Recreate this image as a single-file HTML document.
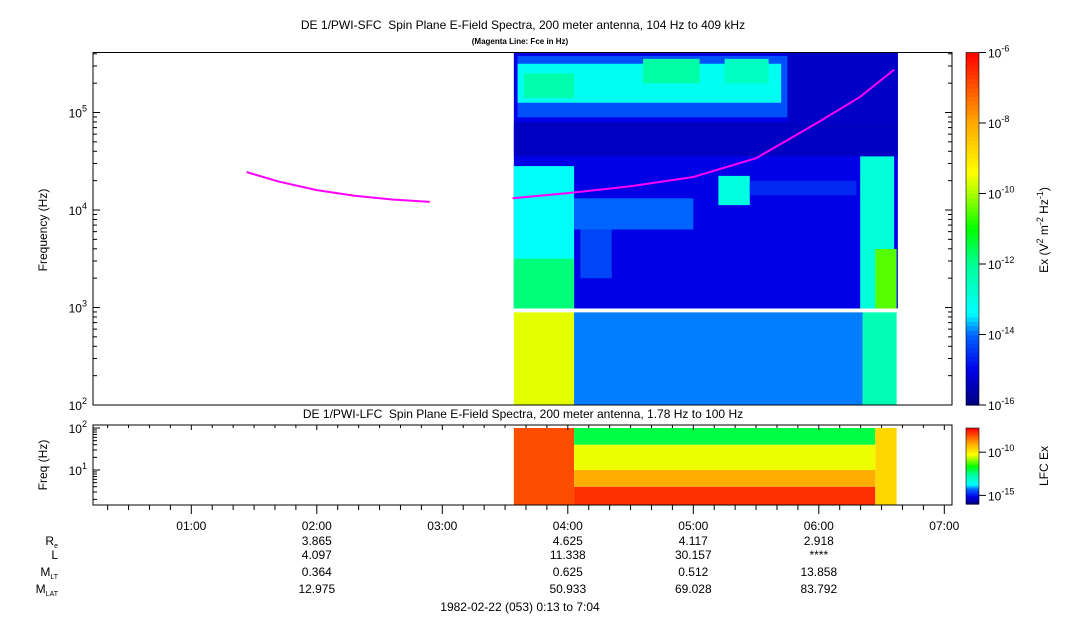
<!DOCTYPE html>
<html><head><meta charset="utf-8"><style>
body{margin:0;background:#fff;font-family:"Liberation Sans",sans-serif}
svg{display:block}
text{font-family:"Liberation Sans",sans-serif;fill:#000;white-space:pre}
</style></head><body>
<svg id="c" width="1083" height="620" viewBox="0 0 1083 620"></svg>
<script>
// ---- data ----
const fce1Times=[1.44,1.7,2.0,2.3,2.6,2.9];
const fce1Vals=[24500,19500,16000,14000,12800,12100];
const fce2Times=[3.56,4.0,4.5,5.0,5.5,6.0,6.33,6.6];
const fce2Vals=[13200,14900,17500,21800,34000,80000,145000,275000];
// SFC regions: [t0,t1,logF0,logF1,log10 power]
const sfcRegions=[
 [3.57,6.63,2.99,5.61,-15.0],
 [3.57,6.63,4.55,4.9,-15.35],
 [5.75,6.63,4.9,5.61,-15.3],
 [3.6,5.75,4.95,5.58,-14.2],
 [3.6,5.7,5.1,5.5,-13.2],
 [3.65,4.05,5.15,5.4,-12.3],
 [4.6,5.05,5.3,5.55,-12.2],
 [5.25,5.6,5.3,5.55,-12.6],
 [3.57,4.05,2.99,4.45,-13.3],
 [3.57,4.05,2.99,3.5,-11.8],
 [4.05,5.0,3.8,4.12,-14.0],
 [4.1,4.35,3.3,3.8,-14.3],
 [5.2,5.45,4.05,4.35,-13.0],
 [5.45,6.3,4.15,4.3,-14.6],
 [6.33,6.6,2.99,4.55,-12.9],
 [6.45,6.62,2.99,3.6,-10.5],
 [3.57,4.05,2.0,2.95,-9.6],
 [4.05,6.35,2.0,2.95,-13.9],
 [6.35,6.62,2.0,2.95,-12.4]
];
// LFC regions: [t0,t1,logF0,logF1,log10 power]
const lfcRegions=[
 [3.57,4.05,0.17,2.0,-8.0],
 [4.05,6.45,1.6,2.0,-12.0],
 [4.05,6.45,1.0,1.6,-10.3],
 [4.05,6.45,0.6,1.0,-9.0],
 [4.05,6.45,0.17,0.6,-7.7],
 [6.45,6.62,0.17,2.0,-9.6]
];
const ephemTimes=[2,4,5,6];
const ephemRe=["3.865","4.625","4.117","2.918"];
const ephemL=["4.097","11.338","30.157","****"];
const ephemMLT=["0.364","0.625","0.512","13.858"];
const ephemMLAT=["12.975","50.933","69.028","83.792"];
const hourTicks=["01:00","02:00","03:00","04:00","05:00","06:00","07:00"];

// ---- axes ----
const X0=93,X1=952;
const tx=t=>X0+(t-0.2167)*125.5;
const sy=l=>405-(l-2)*97.5;
const ly=l=>428+(2-l)*42;
const svg=document.getElementById('c');
const NS='http://www.w3.org/2000/svg';
function mk(tag,a,parent){const e=document.createElementNS(NS,tag);for(const k in a)e.setAttribute(k,a[k]);(parent||svg).appendChild(e);return e;}
const stops=[[0,[0,0,128]],[0.1,[0,0,230]],[0.2,[0,100,255]],[0.26,[0,255,255]],[0.4,[0,255,150]],[0.5,[0,255,0]],[0.6,[170,255,0]],[0.66,[255,255,0]],[0.8,[255,170,0]],[0.9,[255,85,0]],[1,[255,0,0]]];
function cmap(p){p=Math.max(0,Math.min(1,p));for(let i=1;i<stops.length;i++){if(p<=stops[i][0]){const a=stops[i-1],b=stops[i],f=(p-a[0])/(b[0]-a[0]);const c=a[1].map((v,j)=>Math.round(v+(b[1][j]-v)*f));return `rgb(${c})`;}}return 'rgb(255,0,0)';}

// titles
let t=mk('text',{x:523,y:29,'font-size':12,'text-anchor':'middle'});t.textContent='DE 1/PWI-SFC  Spin Plane E-Field Spectra, 200 meter antenna, 104 Hz to 409 kHz';

t=mk('text',{x:520,y:44,'font-size':8,'font-weight':'bold','text-anchor':'middle'});t.textContent='(Magenta Line: Fce in Hz)';

t=mk('text',{x:523,y:418,'font-size':12,'text-anchor':'middle'});t.textContent='DE 1/PWI-LFC  Spin Plane E-Field Spectra, 200 meter antenna, 1.78 Hz to 100 Hz';


// spectrogram regions
const gS=mk('g',{});
sfcRegions.forEach(r=>{const e=mk('rect',{x:tx(r[0]),y:sy(r[3]),width:tx(r[1])-tx(r[0]),height:sy(r[2])-sy(r[3]),fill:cmap((r[4]+16)/10)},gS);
});
const gL=mk('g',{});
lfcRegions.forEach(r=>{const e=mk('rect',{x:tx(r[0]),y:ly(r[3]),width:tx(r[1])-tx(r[0]),height:Math.min(505,ly(r[2]))-ly(r[3]),fill:cmap((r[4]+16)/8.8)},gL);
});

// fce lines
function line(ts,vs,name){const d=ts.map((tt,i)=>(i?'L':'M')+tx(tt).toFixed(1)+','+sy(Math.log10(vs[i])).toFixed(1)).join('');
const p=mk('path',{d:d,stroke:'#ff00ff','stroke-width':2,fill:'none'});}
line(fce1Times,fce1Vals,'fce-line-1');line(fce2Times,fce2Vals,'fce-line-2');

// frames
let f=mk('rect',{x:X0,y:52.5,width:X1-X0,height:352.5,fill:'none',stroke:'#000'});
f=mk('rect',{x:X0,y:425,width:X1-X0,height:80,fill:'none',stroke:'#000'});

// y axis SFC
for(let d=2;d<=5;d++){for(let m=1;m<10;m++){const l=d+Math.log10(m);if(l>5.61)break;const y=sy(l);mk('line',{x1:X0,x2:X0+(m==1?7:4),y1:y,y2:y,stroke:'#000'});mk('line',{x1:X1,x2:X1-(m==1?7:4),y1:y,y2:y,stroke:'#000'});}
 const lab=mk('text',{x:X0-6,y:sy(d)+5,'font-size':12,'text-anchor':'end'});lab.innerHTML='10<tspan dy="-6" font-size="9">'+d+'</tspan>';
 }
t=mk('text',{x:47,y:230,'font-size':12,'text-anchor':'middle',transform:'rotate(-90 47 230)'});t.textContent='Frequency (Hz)';

// y axis LFC
for(let d=0;d<=2;d++){for(let m=1;m<10;m++){const l=d+Math.log10(m);if(l>2)break;const y=ly(l);if(y>505)continue;mk('line',{x1:X0,x2:X0+(m==1?7:4),y1:y,y2:y,stroke:'#000'});}
 if(d>=1){const lab=mk('text',{x:X0-6,y:ly(d)+5,'font-size':12,'text-anchor':'end'});lab.innerHTML='10<tspan dy="-6" font-size="9">'+d+'</tspan>';
 }}
t=mk('text',{x:47,y:465,'font-size':12,'text-anchor':'middle',transform:'rotate(-90 47 465)'});t.textContent='Freq (Hz)';


// x axis
for(let m=20;m<=420;m+=10){const x=tx(m/60);if(x<X0||x>X1)continue;const maj=m%60==0;mk('line',{x1:x,x2:x,y1:505,y2:505+(maj?9:5),stroke:'#000'});mk('line',{x1:x,x2:x,y1:425,y2:425+(maj?5:3),stroke:'#000'});}
hourTicks.forEach((h,i)=>{const e=mk('text',{x:tx(i+1),y:530,'font-size':12,'text-anchor':'middle'});e.textContent=h;
});

// ephemeris
const rows=[[ephemRe,545,'R','e'],[ephemL,559,'L',''],[ephemMLT,576,'M','LT'],[ephemMLAT,593,'M','LAT']];
rows.forEach(r=>{const lab=mk('text',{x:58,y:r[1],'font-size':12,'text-anchor':'end'});lab.innerHTML=r[2]+(r[3]?'<tspan dy="3" font-size="7">'+r[3]+'</tspan>':'');

r[0].forEach((v,i)=>{const e=mk('text',{x:tx(ephemTimes[i]),y:r[1],'font-size':12,'text-anchor':'middle'});e.textContent=v;
});});
t=mk('text',{x:520,y:611,'font-size':12,'text-anchor':'middle'});t.textContent='1982-02-22 (053) 0:13 to 7:04';


// colorbars
function cbar(y0,y1,lo,hi,labels,title,ty,name){const g=mk('g',{});
 const n=80;for(let i=0;i<n;i++){const a=y1-(y1-y0)*(i+1)/n;mk('rect',{x:966,y:a,width:13,height:(y1-y0)/n+0.6,fill:cmap((i+0.5)/n)},g);}
 mk('rect',{x:966,y:y0,width:13,height:y1-y0,fill:'none',stroke:'#000','stroke-width':0.6},g);
 labels.forEach(v=>{const y=y1-(v-lo)/(hi-lo)*(y1-y0);mk('line',{x1:979,x2:986,y1:y,y2:y,stroke:'#000'},g);
  const e=mk('text',{x:988,y:y+5,'font-size':12},g);e.innerHTML='10<tspan dy="-6" font-size="9">'+v+'</tspan>';});
 const e=mk('text',{x:1048,y:ty,'font-size':12,'text-anchor':'middle',transform:`rotate(-90 1048 ${ty})`},g);e.innerHTML=title;}
cbar(52.5,405,-16,-6,[-16,-14,-12,-10,-8,-6],'Ex (V<tspan dy="-5" font-size="9">2</tspan><tspan dy="5"> m</tspan><tspan dy="-5" font-size="9">-2</tspan><tspan dy="5"> Hz</tspan><tspan dy="-5" font-size="9">-1</tspan><tspan dy="5">)</tspan>',230,'sfc-colorbar');
cbar(428,504,-16,-7.2,[-15,-10],'LFC Ex',466,'lfc-colorbar');
</script>
</body></html>
